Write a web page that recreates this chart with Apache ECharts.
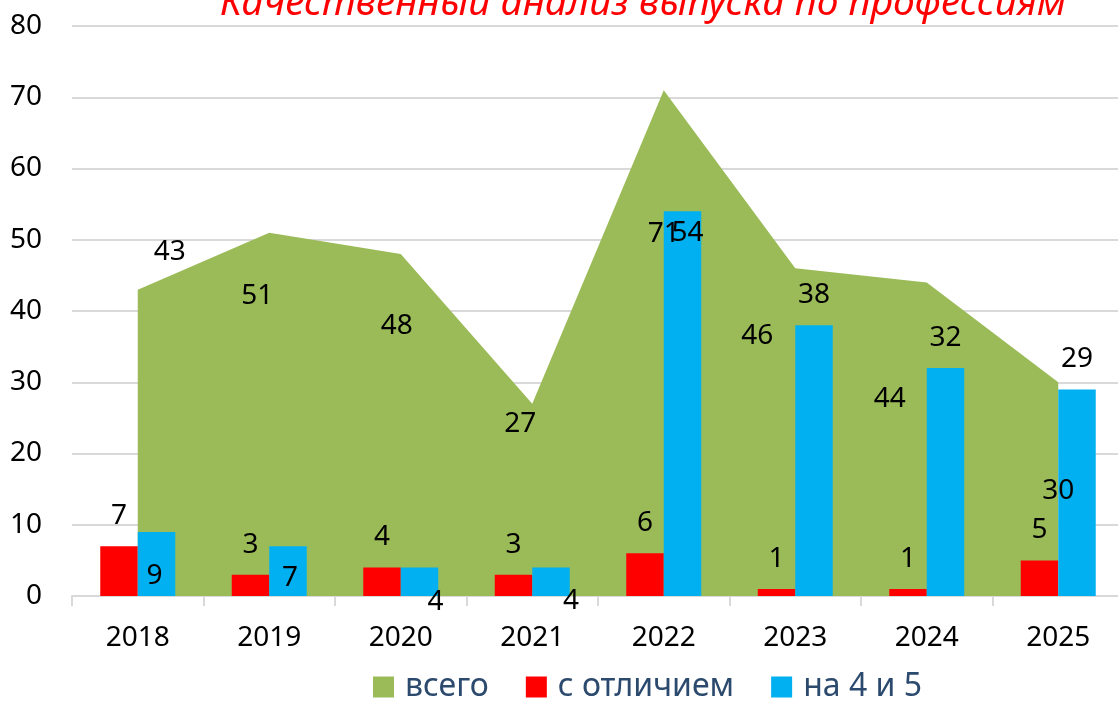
<!DOCTYPE html>
<html>
<head>
<meta charset="utf-8">
<script src="https://cdn.jsdelivr.net/npm/echarts@6/dist/echarts.min.js"></script>
<style>
  html, body {margin: 0; padding: 0; background: #fff;}
  #main {width: 1118px; height: 701px;}
</style>
</head>
<body>
<div id="main"></div>
<script>
const years = ['2018', '2019', '2020', '2021', '2022', '2023', '2024', '2025'];
const total = [43, 51, 48, 27, 71, 46, 44, 30];
const honours = [7, 3, 4, 3, 6, 1, 1, 5];
const goodMarks = [9, 7, 4, 4, 54, 38, 32, 29];
const seriesNames = ['всего', 'с отличием', 'на 4 и 5'];

// где стоят подписи (как в исходной диаграмме Excel)
const totalLabelOffsets = [[32, -38], [-12, 63], [-4, 72], [-12, 20], [0, 144], [-38, 68], [-37, 117], [0, 109]];
const goodLabelOffsets = [[-2, 44], [2, 32], [16, 35], [20, 34], [5, 22], [0, -30], [0, -30], [0, -30]];

const font = 'Noto Sans';
const labelText = {fontSize: 28, color: '#000', fontFamily: font};
const chart = echarts.init(document.getElementById('main'));

chart.setOption({
	animation: false,
	title: {
		text: 'Качественный анализ выпуска по профессиям',
		left: 215,
		top: -21,
		textStyle: {color: '#FF0000', fontStyle: 'italic', fontWeight: 'normal', fontSize: 39, fontFamily: font}
	},
	legend: {
		data: seriesNames,
		left: 373,
		top: 671,
		padding: 0,
		icon: 'rect',
		itemWidth: 21,
		itemHeight: 21,
		itemGap: 37,
		textStyle: {fontSize: 32, color: '#2C4A6E', fontFamily: font, padding: [0, 0, 0, 6]}
	},
	// область построения выходит за правый край, как на исходной картинке
	grid: {left: 72, top: 26, width: 1052, height: 570, outerBoundsMode: 'none'},
	xAxis: {
		type: 'category',
		data: years,
		axisLine: {lineStyle: {color: '#D9D9D9', width: 2}},
		axisTick: {show: true, length: 10, lineStyle: {color: '#D9D9D9', width: 2}},
		axisLabel: {fontSize: 28, color: '#000', margin: 28, fontFamily: font}
	},
	yAxis: {
		type: 'value',
		min: 0,
		max: 80,
		interval: 10,
		axisLine: {show: false},
		axisTick: {show: false},
		axisLabel: {fontSize: 28, color: '#000', margin: 30, fontFamily: font},
		splitLine: {lineStyle: {color: '#D9D9D9', width: 2}}
	},
	series: [
		{
			name: seriesNames[0],
			type: 'line',
			z: 1,
			data: total,
			symbol: 'none',
			lineStyle: {width: 0},
			itemStyle: {color: '#9BBB59'},
			areaStyle: {color: '#9BBB59', opacity: 1}
		},
		{
			name: seriesNames[1],
			type: 'bar',
			z: 3,
			data: honours,
			barWidth: 37.5,
			barGap: '0%',
			itemStyle: {color: '#FF0000'},
			label: Object.assign({
				show: true, position: ['50%', 0], align: 'center', verticalAlign: 'middle', offset: [0, -30]
			}, labelText)
		},
		{
			name: seriesNames[2],
			type: 'bar',
			z: 3,
			data: goodMarks.map((v, i) => ({value: v, label: {offset: goodLabelOffsets[i]}})),
			barWidth: 37.5,
			barGap: '0%',
			itemStyle: {color: '#00B0F0'},
			label: Object.assign({
				show: true, position: ['50%', 0], align: 'center', verticalAlign: 'middle'
			}, labelText)
		},
		{
			// подписи ряда «всего» поверх столбцов
			name: 'всего-подписи',
			type: 'line',
			z: 5,
			silent: true,
			data: total.map((v, i) => ({value: v, label: {offset: totalLabelOffsets[i]}})),
			symbol: 'circle',
			symbolSize: 1,
			lineStyle: {width: 0, opacity: 0},
			itemStyle: {color: 'rgba(0,0,0,0)'},
			label: Object.assign({
				show: true, position: 'inside', align: 'center', verticalAlign: 'middle'
			}, labelText)
		}
	]
});
</script>
</body>
</html>
